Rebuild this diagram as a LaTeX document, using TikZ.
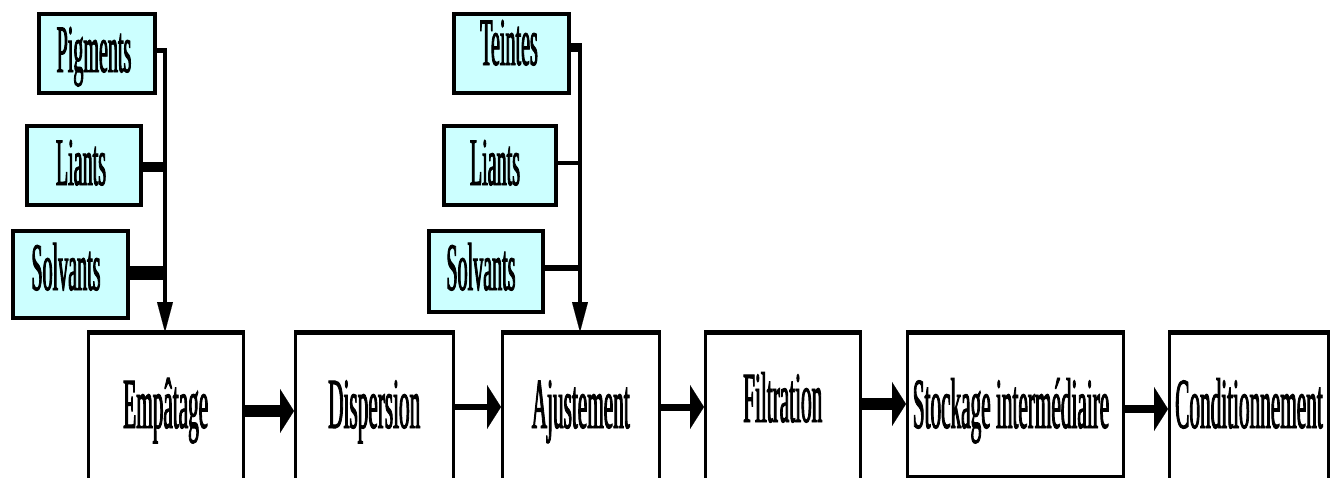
\documentclass[tikz,border=0pt]{standalone}
\usepackage{fontspec}
\usetikzlibrary{arrows.meta}
\newfontfamily\condserif[FakeStretch=0.295,FakeBold=1.2]{Liberation Serif}
\definecolor{boxcyan}{HTML}{CCFFFF}
\begin{document}
\begin{tikzpicture}[x=1pt,y=-1pt,
  inbox/.style={draw, line width=3.5pt, fill=boxcyan, anchor=north west, inner sep=0pt},
  proc/.style={draw, line width=2.5pt, anchor=north west, inner sep=0pt},
  topedge/.style={line width=5pt},
  toplbl/.style={anchor=base, inner sep=0pt, font=\condserif\fontsize{68}{68}\selectfont},
  botlbl/.style={anchor=base, inner sep=0pt, font=\condserif\fontsize{72}{72}\selectfont},
  feed/.style={line width=4pt, -{Triangle[length=30pt 0 0,width=16pt 0 0,line width=0.1pt]}},
  flow/.style={-{Triangle[length=14pt 0 0,width=44pt 0 0,line width=0.1pt]}},
]
\useasboundingbox (0,0) rectangle (1334,477);
\clip (0,0) rectangle (1334,477);
\fill[white] (0,0) rectangle (1334,477);

% input boxes, left group
\node[inbox, minimum width=116, minimum height=79] (pig) at (37,12) {};
\node[inbox, minimum width=114, minimum height=79] (lia1) at (25,124) {};
\node[inbox, minimum width=115, minimum height=87] (sol1) at (11,229) {};
\node[toplbl] (tpig) at (94,72) {Pigments};
\node[toplbl] (tlia1) at (81,185) {Liants};
\node[toplbl] (tsol1) at (66,290) {Solvants};

% input boxes, right group
\node[inbox, minimum width=115, minimum height=79] (tei) at (452,12) {};
\node[inbox, minimum width=112, minimum height=79] (lia2) at (442,124) {};
\node[inbox, minimum width=114, minimum height=81] (sol2) at (427,229) {};
\node[toplbl] (ttei) at (509,65) {Teintes};
\node[toplbl] (tlia2) at (495,185) {Liants};
\node[toplbl] (tsol2) at (481,290) {Solvants};

% process boxes
\node[proc, minimum width=155, minimum height=160] (b1) at (87,332) {};
\node[proc, minimum width=158, minimum height=160] (b2) at (294,332) {};
\node[proc, minimum width=157, minimum height=160] (b3) at (501,332) {};
\node[proc, minimum width=155, minimum height=160] (b4) at (704,332) {};
\node[proc, minimum width=216, minimum height=143] (b5) at (906,332) {};
\node[proc, minimum width=159, minimum height=160] (b6) at (1168,332) {};
\foreach \b in {b1,b2,b3,b4,b5,b6}
  \draw[topedge] (\b.north west) -- (\b.north east);
\draw[line width=4pt] (b5.south west) -- (b5.south east);

\node[botlbl] (t1) at (b1.center |- 0,428) {Empâtage};
\node[botlbl] (t2) at (b2.center |- 0,428) {Dispersion};
\node[botlbl] (t3) at (b3.center |- 0,428) {Ajustement};
\node[botlbl] (t4) at (b4.center |- 0,422) {Filtration};
\node[botlbl] (t5) at (1011,428) {Stockage intermédiaire};
\node[botlbl] (t6) at (1249,428) {Conditionnement};

% collectors
\coordinate (v1) at (165,48);
\coordinate (v2) at (580,43);
\draw[line width=5pt] (pig.east |- 0,50) -- (v1 |- 0,50);
\draw[line width=10pt] (lia1.east |- 0,167) -- (v1 |- 0,167);
\draw[line width=14pt] (sol1.east |- 0,273) -- (v1 |- 0,273);
\draw[feed] (v1) -- (b1.north -| v1);

\draw[line width=9pt] (tei.east |- 0,47) -- (v2 |- 0,47);
\draw[line width=4pt] (lia2.east |- 0,163) -- (v2 |- 0,163);
\draw[line width=6pt] (sol2.east |- 0,268) -- (v2 |- 0,268);
\draw[feed] (v2) -- (b3.north -| v2);

% flow arrows
\draw[flow, line width=12pt] (b1.east |- 0,411) -- (b2.west |- 0,411);
\draw[flow, line width=6pt] (b2.east |- 0,407) -- (b3.west |- 0,407);
\draw[flow, line width=7pt] (b3.east |- 0,407) -- (b4.west |- 0,407);
\draw[flow, line width=12pt] (b4.east |- 0,404) -- (b5.west |- 0,404);
\draw[flow, line width=8pt] (b5.east |- 0,409) -- (b6.west |- 0,409);
\end{tikzpicture}
\end{document}
